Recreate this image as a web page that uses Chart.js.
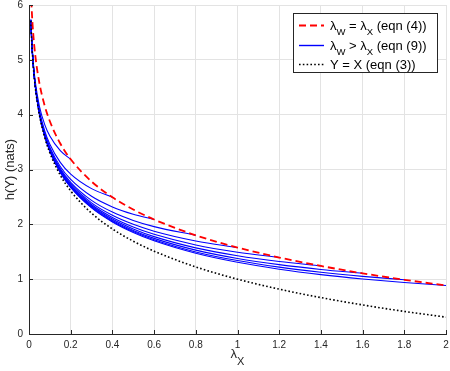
<!DOCTYPE html>
<html>
<head>
<meta charset="utf-8">
<script src="https://cdn.jsdelivr.net/npm/chart.js@4.4.1/dist/chart.umd.min.js"></script>
<style>
  html, body { margin: 0; padding: 0; background: #fff; }
  #chart_h { display: block; }
</style>
</head>
<body>
<canvas id="chart_h" width="450" height="371"></canvas>
<script>
// lambda_X sample points (shared x for every curve)
var lambdaX = [0.009, 0.013, 0.02, 0.03, 0.05, 0.075, 0.1, 0.15, 0.2, 0.3, 0.4, 0.5, 0.6, 0.8, 1.0, 1.2, 1.4, 1.6, 1.8, 2.0];

// eqn (4): lambda_W = lambda_X
var hEqual = [6.288, 5.920, 5.489, 5.084, 4.573, 4.168, 3.880, 3.474, 3.187, 2.781, 2.494, 2.270, 2.088, 1.800, 1.577, 1.395, 1.241, 1.107, 0.989, 0.884];

// eqn (3): Y = X
var hYX = [5.711, 5.343, 4.912, 4.507, 3.996, 3.590, 3.303, 2.897, 2.609, 2.204, 1.916, 1.693, 1.511, 1.223, 1.000, 0.818, 0.664, 0.530, 0.412, 0.307];

// eqn (9): one curve per lambda_W, each one stops at lambda_X = lambda_W
var lambdaW = [0.2, 0.4, 0.6, 0.8, 1.0, 1.2, 1.4, 1.6, 1.8, 2.0];
var hW02 = [5.739, 5.385, 4.976, 4.602, 4.153, 3.824, 3.609, 3.344, 3.187];
var hW04 = [5.725, 5.364, 4.944, 4.555, 4.076, 3.709, 3.460, 3.130, 2.916, 2.651, 2.494];
var hW06 = [5.720, 5.357, 4.934, 4.539, 4.049, 3.670, 3.408, 3.055, 2.818, 2.511, 2.318, 2.185, 2.088];
var hW08 = [5.718, 5.353, 4.928, 4.531, 4.036, 3.650, 3.382, 3.016, 2.767, 2.437, 2.223, 2.071, 1.958, 1.800];
var hW10 = [5.716, 5.351, 4.925, 4.526, 4.028, 3.638, 3.367, 2.993, 2.736, 2.392, 2.165, 2.000, 1.875, 1.697, 1.577];
var hW12 = [5.715, 5.350, 4.923, 4.523, 4.023, 3.630, 3.356, 2.977, 2.715, 2.362, 2.125, 1.951, 1.818, 1.624, 1.492, 1.395];
var hW14 = [5.715, 5.349, 4.921, 4.520, 4.019, 3.625, 3.348, 2.966, 2.700, 2.339, 2.096, 1.916, 1.776, 1.571, 1.428, 1.322, 1.241];
var hW16 = [5.714, 5.348, 4.920, 4.519, 4.016, 3.620, 3.343, 2.957, 2.689, 2.323, 2.074, 1.889, 1.744, 1.530, 1.378, 1.265, 1.177, 1.107];
var hW18 = [5.714, 5.348, 4.919, 4.517, 4.014, 3.617, 3.338, 2.951, 2.680, 2.310, 2.057, 1.868, 1.719, 1.497, 1.339, 1.219, 1.126, 1.051, 0.989];
var hW20 = [5.713, 5.347, 4.919, 4.516, 4.012, 3.614, 3.335, 2.945, 2.673, 2.299, 2.043, 1.851, 1.699, 1.472, 1.307, 1.182, 1.083, 1.004, 0.939, 0.884];

var xTicks = [0, 0.2, 0.4, 0.6, 0.8, 1, 1.2, 1.4, 1.6, 1.8, 2];
var yTicks = [0, 1, 2, 3, 4, 5, 6];

// "_W" means subscript W
var legendLabels = ['λ_W = λ_X (eqn (4))', 'λ_W > λ_X (eqn (9))', 'Y = X (eqn (3))'];
var xTitle = 'λ_X';
var yTitle = 'h(Y) (nats)';

var FONT = '"Liberation Sans", Arial, Helvetica, sans-serif';
var TXT = '#262626';

function toPoints(ys){
  var pts = [];
  for(var i = 0; i < ys.length; i++){
    pts.push({x: lambdaX[i], y: ys[i]});
  }
  return pts;
}

var redStyle = {color: '#ff0000', width: 1.8, dash: [7, 4]};
var blueStyle = {color: '#0000ff', width: 1.1, dash: []};
var dotStyle = {color: '#000000', width: 1.6, dash: [1.6, 2.2]};

var datasets = [];
datasets.push({label: legendLabels[0], data: toPoints(hEqual), borderColor: redStyle.color,
  borderWidth: redStyle.width, borderDash: redStyle.dash});
datasets.push({label: legendLabels[2], data: toPoints(hYX), borderColor: dotStyle.color,
  borderWidth: dotStyle.width, borderDash: dotStyle.dash});

var blueCurves = [hW02, hW04, hW06, hW08, hW10, hW12, hW14, hW16, hW18, hW20];
for(var k = 0; k < blueCurves.length; k++){
  datasets.push({label: 'lambda_W = ' + lambdaW[k], data: toPoints(blueCurves[k]),
    borderColor: blueStyle.color, borderWidth: blueStyle.width});
}

datasets.forEach(function(d){
  d.pointRadius = 0;
  d.fill = false;
  d.cubicInterpolationMode = 'monotone';
});

// draws text with "_c" subscripts
function richText(ctx, str, x, y, size, subSize, subShift){
  var parts = str.split(/_(\w)/);
  for(var i = 0; i < parts.length; i++){
    if(!parts[i]) continue;
    var sub = (i % 2 === 1);
    ctx.font = (sub ? subSize : size) + 'px ' + FONT;
    ctx.fillText(parts[i], x, y + (sub ? subShift : 0));
    x += ctx.measureText(parts[i]).width;
  }
  return x;
}
function richWidth(ctx, str, size, subSize){
  var parts = str.split(/_(\w)/);
  var w = 0;
  for(var i = 0; i < parts.length; i++){
    if(!parts[i]) continue;
    ctx.font = ((i % 2 === 1) ? subSize : size) + 'px ' + FONT;
    w += ctx.measureText(parts[i]).width;
  }
  return w;
}

function noPad(s){
  s.paddingTop = 0; s.paddingBottom = 0; s.paddingLeft = 0; s.paddingRight = 0;
}

var decor = {
  id: 'decor',
  afterDraw: function(chart){
    var ctx = chart.ctx;
    var xs = chart.scales.x, ys = chart.scales.y;
    var area = chart.chartArea;
    ctx.save();

    // inward tick marks
    ctx.strokeStyle = TXT;
    ctx.lineWidth = 1;
    ctx.setLineDash([]);
    ctx.beginPath();
    xTicks.forEach(function(v){
      var px = Math.round(xs.getPixelForValue(v)) + 0.5;
      ctx.moveTo(px, area.bottom);
      ctx.lineTo(px, area.bottom - 4);
    });
    yTicks.forEach(function(v){
      var py = Math.round(ys.getPixelForValue(v)) + 0.5;
      ctx.moveTo(area.left, py);
      ctx.lineTo(area.left + 4, py);
    });
    ctx.stroke();

    // axis titles
    ctx.fillStyle = TXT;
    ctx.textBaseline = 'alphabetic';
    ctx.textAlign = 'left';
    var cx = (area.left + area.right) / 2;
    var w = richWidth(ctx, xTitle, 13, 11);
    richText(ctx, xTitle, cx - w / 2, 358, 13, 11, 7);

    ctx.save();
    ctx.translate(14, (area.top + area.bottom) / 2);
    ctx.rotate(-Math.PI / 2);
    ctx.font = '13px ' + FONT;
    ctx.textAlign = 'center';
    ctx.fillText(yTitle, 0, 0);
    ctx.restore();

    // legend box
    var bx = 293.5, by = 13.5, bw = 144, bh = 59;
    ctx.fillStyle = '#ffffff';
    ctx.fillRect(bx, by, bw, bh);
    ctx.strokeStyle = TXT;
    ctx.lineWidth = 1;
    ctx.strokeRect(bx, by, bw, bh);

    var rows = [25, 45, 64];
    var styles = [redStyle, blueStyle, dotStyle];
    for(var i = 0; i < 3; i++){
      var st = styles[i];
      ctx.beginPath();
      ctx.strokeStyle = st.color;
      ctx.lineWidth = (st === blueStyle) ? 1.4 : st.width;
      ctx.setLineDash(st.dash);
      ctx.moveTo(299, rows[i] + 0.5);
      ctx.lineTo(324, rows[i] + 0.5);
      ctx.stroke();
      ctx.setLineDash([]);
      ctx.fillStyle = '#000';
      richText(ctx, legendLabels[i], 330, rows[i] + 4.5, 13, 9.5, 5);
    }
    ctx.restore();
  }
};

var ctx_h = document.getElementById('chart_h').getContext('2d');
var chart_h = new Chart(ctx_h, {
  type: 'line',
  data: {datasets: datasets},
  plugins: [decor],
  options: {
    responsive: false,
    animation: false,
    devicePixelRatio: 1,
    layout: {padding: {left: 0, right: 4, top: 5, bottom: 0}},
    plugins: {legend: {display: false}, tooltip: {enabled: false}},
    scales: {
      x: {
        type: 'linear', min: 0, max: 2,
        afterBuildTicks: function(s){ s.ticks = xTicks.map(function(v){ return {value: v}; }); },
        afterFit: function(s){ s.height = 37; noPad(s); },
        grid: {color: '#e3e3e3', drawTicks: false},
        border: {color: TXT, width: 1},
        ticks: {padding: 5, color: TXT, font: {size: 10, family: FONT}, maxRotation: 0,
          callback: function(v){ return String(+v.toFixed(2)); }}
      },
      y: {
        type: 'linear', min: 0, max: 6,
        afterBuildTicks: function(s){ s.ticks = yTicks.map(function(v){ return {value: v}; }); },
        afterFit: function(s){ s.width = 29; noPad(s); },
        grid: {color: '#e3e3e3', drawTicks: false},
        border: {color: TXT, width: 1},
        ticks: {padding: 6, color: TXT, font: {size: 10, family: FONT},
          callback: function(v){ return String(v); }}
      }
    }
  }
});
</script>
</body>
</html>
